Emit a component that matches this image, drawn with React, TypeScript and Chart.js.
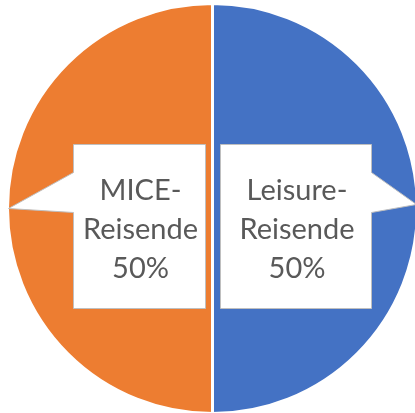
import React, { useEffect, useRef } from "react";
import { Chart, registerables } from "chart.js";

Chart.register(...registerables);

const categories = ["Leisure-Reisende", "MICE-Reisende"];
const values = [50, 50];
const colors = ["#4472C4", "#ED7D31"];

const calloutPlugin = {
  id: "callouts",
  afterDatasetsDraw(chart: any) {
    const ctx = chart.ctx;
    const meta = chart.getDatasetMeta(0);
    const total = values.reduce((a, b) => a + b, 0);
    meta.data.forEach((arc: any, i: number) => {
      const { x: cx, y: cy, outerRadius: r, startAngle, endAngle } = arc.getProps(
        ["x", "y", "outerRadius", "startAngle", "endAngle"],
        true
      );
      const mid = (startAngle + endAngle) / 2;
      const right = Math.cos(mid) > 0;
      const tipX = cx + Math.cos(mid) * (r - 1);
      const tipY = cy + Math.sin(mid) * r + (right ? -4 : 0);
      const top = cy - 64;
      const bottom = cy + 100;
      let left: number, rgt: number;
      if (right) {
        left = cx + 8;
        rgt = cx + 159;
      } else {
        left = cx - 139;
        rgt = cx - 7;
      }
      const pTop = cy - 36;
      const pBot = cy + 4;
      ctx.save();
      ctx.beginPath();
      ctx.moveTo(left, top);
      ctx.lineTo(rgt, top);
      if (right) {
        ctx.lineTo(rgt, pTop);
        ctx.lineTo(tipX, tipY);
        ctx.lineTo(rgt, pBot);
      }
      ctx.lineTo(rgt, bottom);
      ctx.lineTo(left, bottom);
      if (!right) {
        ctx.lineTo(left, pBot);
        ctx.lineTo(tipX, tipY);
        ctx.lineTo(left, pTop);
      }
      ctx.closePath();
      ctx.fillStyle = "#FFFFFF";
      ctx.fill();
      ctx.lineWidth = 1;
      ctx.strokeStyle = "#BFBFBF";
      ctx.stroke();

      const label = categories[i];
      const idx = label.indexOf("-");
      const lines = [label.slice(0, idx + 1), label.slice(idx + 1), Math.round((values[i] / total) * 100) + "%"];
      ctx.fillStyle = "#595959";
      ctx.font = "29px Lato";
      ctx.textAlign = "center";
      ctx.textBaseline = "middle";
      const tx = (left + rgt) / 2 + 1;
      lines.forEach((ln, k) => {
        ctx.fillText(ln, tx, cy - 18 + k * 39);
      });
      ctx.restore();
    });
  },
};

export default function App() {
  const ref = useRef<HTMLCanvasElement | null>(null);
  useEffect(() => {
    if (!ref.current) return;
    const chart = new Chart(ref.current, {
      type: "pie",
      data: {
        labels: categories,
        datasets: [
          {
            data: values,
            backgroundColor: colors,
            borderColor: "#FFFFFF",
            borderWidth: 3,
            radius: 205,
          } as any,
        ],
      },
      options: {
        animation: false,
        responsive: false,
        maintainAspectRatio: false,
        radius: 205,
        layout: { padding: { top: 4, bottom: 0, left: 10, right: 0 } },
        plugins: {
          legend: { display: false },
          tooltip: { enabled: false },
        },
      } as any,
      plugins: [calloutPlugin],
    });
    return () => chart.destroy();
  }, []);
  return (
    <div style={{ position: "fixed", left: 0, top: 0, width: 415, height: 413, background: "#fff" }}>
      <canvas ref={ref} width={415} height={413} style={{ width: 415, height: 413 }} />
    </div>
  );
}
